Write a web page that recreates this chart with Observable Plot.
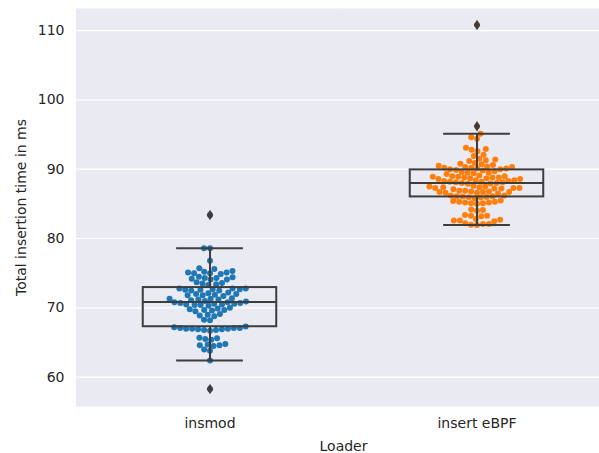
<!DOCTYPE html>
<html>
<head>
<meta charset="utf-8">
<script src="https://cdn.jsdelivr.net/npm/d3@7"></script>
<script src="https://cdn.jsdelivr.net/npm/@observablehq/plot@0.6"></script>
<style>
  html, body { margin: 0; padding: 0; background: white; overflow: hidden; }
</style>
</head>
<body>
<div id="chart"></div>
<script>
// ---- data ----
const loaders = ["insmod", "insert eBPF"];
const colors = ["#1f77b4", "#ff7f0e"];
const yTicks = [60, 70, 80, 90, 100, 110];

const insmodTimes = [
  58.3,
  62.4,
  63.8, 64.0,
  64.5, 64.6, 64.6, 64.7, 64.8,
  65.4, 65.5, 65.6, 65.7,
  66.7, 66.8, 66.8, 66.9, 66.9, 67.0, 67.0, 67.0, 67.1, 67.1, 67.1, 67.2,
  67.3, 68.2, 68.3,
  68.8, 68.9, 69.0, 69.1,
  69.5, 69.6, 69.7, 69.7, 69.8, 69.9, 70.0,
  70.3, 70.4, 70.4, 70.5, 70.5, 70.6, 70.6, 70.7,
  70.7, 70.8, 70.8, 70.9, 71.0, 71.1, 71.2, 71.2, 71.3, 71.3, 71.4,
  71.7, 71.8, 71.8, 71.9, 72.0, 72.0, 72.1, 72.2,
  72.5, 72.5, 72.6, 72.6, 72.7, 72.7, 72.8, 72.8, 72.8,
  73.3, 73.4, 73.5, 73.6, 73.7,
  74.1, 74.1, 74.2, 74.3, 74.3, 74.4, 74.5,
  74.9, 75.0, 75.0, 75.1, 75.1, 75.2, 75.3,
  75.6, 75.7,
  76.8,
  78.6, 78.6,
  83.4
];

const ebpfTimes = [
  81.95, 82.0, 82.1, 82.1, 82.2,
  82.5, 82.6, 82.6, 82.7, 82.8,
  83.2, 83.3, 83.3, 83.4,
  84.0, 84.1, 84.2,
  85.0, 85.1, 85.1, 85.2, 85.2, 85.3, 85.3, 85.4, 85.5,
  85.8, 85.9, 85.95, 86.0, 86.05, 86.1, 86.1, 86.2, 86.2,
  86.5, 86.6, 86.6, 86.7, 86.7, 86.7, 86.8, 86.8, 86.9, 86.9,
  87.1, 87.2, 87.2, 87.3, 87.3, 87.3, 87.4, 87.4, 87.5, 87.5, 87.6,
  87.9, 87.95, 88.0, 88.0, 88.1, 88.1, 88.2, 88.2, 88.3, 88.3, 88.4, 88.4,
  88.6, 88.6, 88.7, 88.7, 88.8, 88.8, 88.8, 88.9, 88.9, 89.0, 89.0, 89.1,
  89.3, 89.4, 89.5, 89.5, 89.6, 89.7, 89.8, 89.9, 90.0, 90.0, 90.1, 90.1,
  90.2, 90.2, 90.3, 90.3, 90.4, 90.5, 90.6, 90.7, 90.8, 90.9,
  91.2, 91.3, 91.4, 91.5, 91.9, 92.1,
  92.6, 92.8, 92.9, 93.1,
  94.4, 94.6, 95.1,
  96.2,
  110.8
];

const series = [insmodTimes, ebpfTimes];

// ---- tables built from the arrays ----
const points = loaders.flatMap((loader, i) =>
  series[i].slice().sort(d3.ascending).map(value => ({loader, value}))
);

const stats = loaders.map((loader, i) => {
  const v = series[i].slice().sort(d3.ascending);
  const q1 = d3.quantile(v, 0.25), q2 = d3.quantile(v, 0.5), q3 = d3.quantile(v, 0.75);
  const iqr = q3 - q1;
  const lo = d3.min(v.filter(d => d >= q1 - 1.5 * iqr));
  const hi = d3.max(v.filter(d => d <= q3 + 1.5 * iqr));
  return {loader, q1, q2, q3, lo, hi};
});

const outliers = loaders.flatMap((loader, i) => {
  const s = stats[i];
  return series[i].filter(d => d < s.lo || d > s.hi).map(value => ({loader, value}));
});

// thin diamond marker (matplotlib "d")
const thinDiamond = {
  draw(context, size) {
    const r = Math.sqrt(size / Math.PI);
    const w = r * 0.62;
    context.moveTo(0, -r);
    context.lineTo(w, 0);
    context.lineTo(0, r);
    context.lineTo(-w, 0);
    context.closePath();
  }
};

const boxColor = "#3d3d3d";
const boxHalf = 0.25;   // seaborn box half-width (band units)
const capHalf = 0.125;

const chart = Plot.plot({
  width: 611,
  height: 453,
  marginLeft: 75.5,
  marginRight: 0,
  marginTop: 8,
  marginBottom: 47,
  style: {fontFamily: "DejaVu Sans", fontSize: "14px", color: "#262626", background: "white", maxWidth: "none"},
  fx: {domain: loaders, padding: 0, axis: null},
  x: {domain: [-0.5, 0.5], axis: null},
  y: {domain: [55.77, 113.18], axis: null},
  color: {domain: loaders, range: colors},
  marks: [
    Plot.frame({fill: "#eaeaf2", stroke: null, insetLeft: -0.6, insetRight: -0.6}),
    Plot.gridY(yTicks, {stroke: "white", strokeOpacity: 1, strokeWidth: 1.2}),
    Plot.dot(points, Plot.dodgeX({anchor: "middle", padding: 0}, {
      fx: "loader", y: "value", r: 3, fill: "loader", stroke: null
    })),
    Plot.rect(stats, {fx: "loader", x1: -boxHalf, x2: boxHalf, y1: "q1", y2: "q3",
      fill: "none", stroke: boxColor, strokeWidth: 2}),
    Plot.ruleX(stats, {fx: "loader", x: 0, y1: "q3", y2: "hi", stroke: boxColor, strokeWidth: 2}),
    Plot.ruleX(stats, {fx: "loader", x: 0, y1: "lo", y2: "q1", stroke: boxColor, strokeWidth: 2}),
    Plot.ruleY(stats, {fx: "loader", y: "hi", x1: -capHalf, x2: capHalf, stroke: boxColor, strokeWidth: 2}),
    Plot.ruleY(stats, {fx: "loader", y: "lo", x1: -capHalf, x2: capHalf, stroke: boxColor, strokeWidth: 2}),
    Plot.ruleY(stats, {fx: "loader", y: "q2", x1: -boxHalf, x2: boxHalf, stroke: boxColor, strokeWidth: 2}),
    Plot.dot(outliers, {fx: "loader", x: 0, y: "value", symbol: thinDiamond, r: 5.2,
      fill: boxColor, stroke: null}),
    Plot.axisY(yTicks, {anchor: "left", tickSize: 0, tickPadding: 12,
      label: "Total insertion time in ms", labelAnchor: "center", labelArrow: "none", labelOffset: 60}),
    Plot.axisFx({anchor: "bottom", tickSize: 0, tickPadding: 12,
      label: "Loader", labelAnchor: "center", labelArrow: "none", labelOffset: 44})
  ]
});

document.getElementById("chart").appendChild(chart);
</script>
</body>
</html>
